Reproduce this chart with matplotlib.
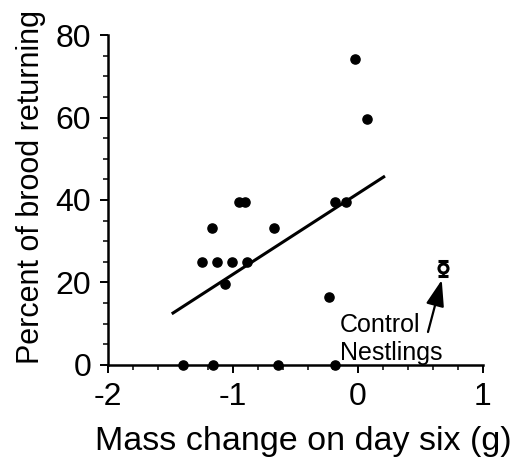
import numpy as np
import matplotlib
matplotlib.use("Agg")
import matplotlib.pyplot as plt
from matplotlib.ticker import MultipleLocator

plt.rcParams["font.family"] = ["Liberation Sans", "DejaVu Sans"]
plt.rcParams["axes.unicode_minus"] = False

# brood data
mass = [-1.25, -1.165, -1.125, -1.065, -1.01, -0.95, -0.905, -0.885, -0.67,
        -0.23, -0.18, -0.095, -0.025, 0.07, -1.40, -1.16, -0.64, -0.185]
pct = [25, 33.3, 25, 19.7, 25, 39.6, 39.6, 25, 33.1,
       16.4, 39.4, 39.4, 74.3, 59.6, 0, 0, 0, 0]

# regression line ends
fit_x = [-1.49, 0.216]
fit_y = [12.4, 45.8]

# control nestlings
ctrl_x = 0.677
ctrl_y = 23.4
ctrl_err = 1.8

fig = plt.figure(figsize=(5.19, 4.68), dpi=100)
ax = fig.add_axes([0.2081, 0.2201, 0.7225, 0.7051])

ax.plot(fit_x, fit_y, color="black", lw=2.2, solid_capstyle="butt")
ax.plot(mass, pct, "o", color="black", ms=6.6, clip_on=False, zorder=3)
ax.errorbar([ctrl_x], [ctrl_y], yerr=[ctrl_err], fmt="o", color="black",
            mfc="white", mec="black", mew=2.2, ms=6.5, capsize=3.6,
            elinewidth=1.8, capthick=1.8, zorder=4)

ax.annotate("", xy=(0.67, 20.6), xytext=(0.56, 8.0),
            arrowprops=dict(arrowstyle="-|>,head_length=0.8,head_width=0.28",
                            mutation_scale=20, color="black", lw=1.6,
                            shrinkA=0, shrinkB=0))
ax.text(-0.145, 9.7, "Control", fontsize=18, va="center", ha="left")
ax.text(-0.145, 3.0, "Nestlings", fontsize=18, va="center", ha="left")

ax.set_xlim(-2, 1)
ax.set_ylim(0, 80)
ax.set_xticks([-2, -1, 0, 1])
ax.set_yticks([0, 20, 40, 60, 80])
ax.xaxis.set_minor_locator(MultipleLocator(0.2))
ax.yaxis.set_minor_locator(MultipleLocator(5))

for s in ["top", "right"]:
    ax.spines[s].set_visible(False)
for s in ["left", "bottom"]:
    ax.spines[s].set_linewidth(1.8)

ax.tick_params(which="major", length=6, width=1.4, labelsize=23, pad=6)
ax.tick_params(which="minor", length=3.5, width=1.1)

ax.set_xlabel("Mass change on day six (g)", fontsize=24.5)
ax.set_ylabel("Percent of brood returning", fontsize=22)
ax.xaxis.set_label_coords(0.52, -0.185)
ax.yaxis.set_label_coords(-0.165, 0.538)

fig.savefig("out.png", dpi=100)
